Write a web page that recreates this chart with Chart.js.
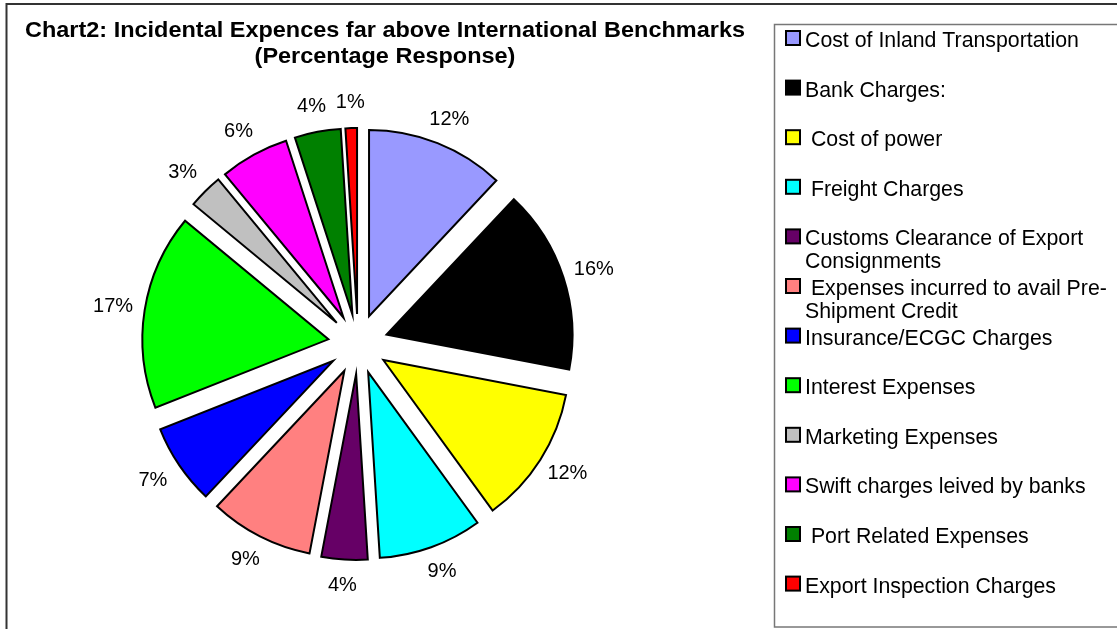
<!DOCTYPE html>
<html lang="en">
<head>
  <meta charset="UTF-8">
  <title>Incidental Expences far above International Benchmarks</title>
  <script src="https://cdn.jsdelivr.net/npm/chart.js"></script>
  <style>
    html, body { margin: 0; padding: 0; background: #fff; overflow: hidden; }
    canvas { display: block; }
  </style>
</head>
<body>
  <canvas id="pieChart" width="1117" height="629"></canvas>

  <script>
    // categories (multi-line entries wrap in the legend)
    const categories = [
      'Cost of Inland Transportation',
      'Bank Charges:',
      ' Cost of power',
      ' Freight Charges',
      ['Customs Clearance of Export', 'Consignments'],
      [' Expenses incurred to avail Pre-', 'Shipment Credit'],
      'Insurance/ECGC Charges',
      'Interest Expenses',
      'Marketing Expenses',
      'Swift charges leived by banks',
      ' Port Related Expenses',
      'Export Inspection Charges'
    ];
    // percentage response
    const responses = [12, 16, 12, 9, 4, 9, 7, 17, 3, 6, 4, 1];
    const sliceColors = [
      '#9999FF', '#000000', '#FFFF00', '#00FFFF', '#660066', '#FF8080',
      '#0000FF', '#00FF00', '#C0C0C0', '#FF00FF', '#008000', '#FF0000'
    ];
    const titleLines = [
      'Chart2: Incidental Expences far above International Benchmarks',
      '(Percentage Response)'
    ];

    const FONT = "'Liberation Sans', Arial, sans-serif";
    const EXPLODE = 30;               // distance each slice is pulled out
    const LABEL_RX = 248, LABEL_RY = 242;  // label ring around the pie

    // draw every slice pulled out along its middle angle
    const explodePlugin = {
      id: 'explode',
      beforeDatasetDraw(chart, args) {
        const ctx = chart.ctx;
        args.meta.data.forEach(arc => {
          const mid = (arc.startAngle + arc.endAngle) / 2;
          ctx.save();
          ctx.translate(Math.cos(mid) * EXPLODE, Math.sin(mid) * EXPLODE);
          arc.draw(ctx);
          ctx.restore();
        });
        return false;
      },
      // percentage labels outside each slice
      afterDatasetsDraw(chart) {
        const ctx = chart.ctx;
        const meta = chart.getDatasetMeta(0);
        const values = chart.data.datasets[0].data;
        ctx.save();
        ctx.font = '20px ' + FONT;
        ctx.fillStyle = '#000';
        ctx.textAlign = 'center';
        ctx.textBaseline = 'middle';
        meta.data.forEach((arc, i) => {
          const mid = (arc.startAngle + arc.endAngle) / 2;
          ctx.fillText(values[i] + '%', arc.x + Math.cos(mid) * LABEL_RX, arc.y + Math.sin(mid) * LABEL_RY);
        });
        ctx.restore();
      }
    };

    // frame, title and boxed legend
    const decorPlugin = {
      id: 'decor',
      afterDraw(chart) {
        const ctx = chart.ctx;
        ctx.save();

        // outer frame
        ctx.strokeStyle = '#333';
        ctx.lineWidth = 2;
        ctx.strokeRect(6.5, 4, 1200, 700);

        // title, squeezed to width like the original
        ctx.fillStyle = '#000';
        ctx.font = 'bold 22px ' + FONT;
        ctx.textAlign = 'center';
        ctx.textBaseline = 'alphabetic';
        const sx = 720 / ctx.measureText(titleLines[0]).width;
        ctx.save();
        ctx.translate(385, 0);
        ctx.scale(sx, 1);
        ctx.fillText(titleLines[0], 0, 37);
        ctx.fillText(titleLines[1], 0, 63);
        ctx.restore();

        // legend box
        ctx.strokeStyle = '#777';
        ctx.lineWidth = 1.5;
        ctx.strokeRect(774.5, 24.5, 400, 602.5);

        ctx.font = '21.3px ' + FONT;
        ctx.textAlign = 'left';
        const ds = chart.data.datasets[0];
        chart.data.labels.forEach((label, i) => {
          const base = 47 + 49.6 * i;
          ctx.fillStyle = ds.backgroundColor[i];
          ctx.fillRect(786, base - 16, 14, 14);
          ctx.strokeStyle = '#000';
          ctx.lineWidth = 2;
          ctx.strokeRect(786, base - 16, 14, 14);
          ctx.fillStyle = '#000';
          const lines = Array.isArray(label) ? label : [label];
          lines.forEach((ln, j) => ctx.fillText(ln, 805, base + j * 23));
        });

        ctx.restore();
      }
    };

    new Chart(document.getElementById('pieChart'), {
      type: 'pie',
      data: {
        labels: categories,
        datasets: [{
          data: responses,
          backgroundColor: sliceColors,
          borderColor: '#000',
          borderWidth: 2,
          borderJoinStyle: 'miter'
        }]
      },
      options: {
        responsive: false,
        animation: false,
        events: [],
        radius: 186,
        layout: { padding: { left: 150, right: 551, top: 150, bottom: 91 } },
        plugins: {
          legend: { display: false },
          tooltip: { enabled: false },
          title: { display: false }
        }
      },
      plugins: [explodePlugin, decorPlugin]
    });
  </script>
</body>
</html>
